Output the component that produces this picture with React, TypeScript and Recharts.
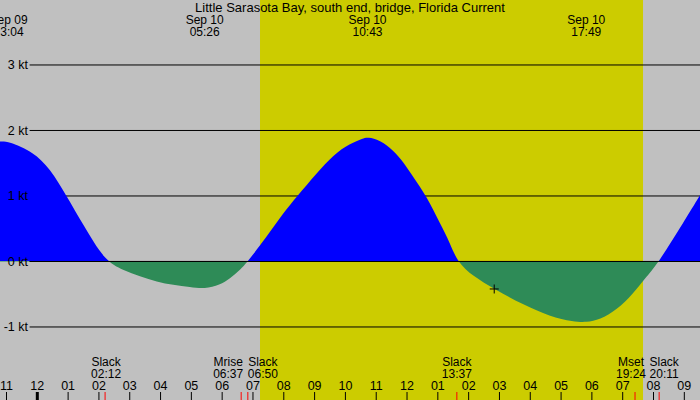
import {
  ComposedChart,
  Area,
  XAxis,
  YAxis,
  ReferenceArea,
  ReferenceLine,
  ReferenceDot,
} from "recharts";

// hours from Sep 10 00:00, current in knots
const hours = [
  -1.25, -0.93, -0.13, 0.41, 0.95, 1.49, 2.2, 2.79, 3.33, 3.88, 4.41, 4.96,
  5.43, 5.93, 6.25, 6.58, 6.83, 7.45, 7.98, 8.42, 9.07, 9.61, 10.15, 10.58,
  10.72, 11.12, 11.55, 11.88, 12.2, 12.64, 13.07, 13.4, 13.62, 14.15, 14.83,
  15.77, 16.64, 17.4, 17.82, 18.26, 18.81, 19.34, 19.78, 20.18, 20.86, 21.52,
];
const knots = [
  1.83, 1.84, 1.67, 1.42, 1.0, 0.56, 0, -0.13, -0.23, -0.31, -0.36, -0.39,
  -0.42, -0.36, -0.26, -0.13, 0, 0.38, 0.74, 0.99, 1.35, 1.63, 1.8, 1.88,
  1.9, 1.855, 1.7, 1.52, 1.29, 0.99, 0.58, 0.28, 0, -0.23, -0.42, -0.66,
  -0.84, -0.92, -0.93, -0.89, -0.74, -0.49, -0.23, 0, 0.51, 1.02,
];

const title = "Little Sarasota Bay, south end, bridge, Florida Current";

const hourTicks = [
  -1, 0, 1, 2, 3, 4, 5, 6, 7, 8, 9, 10, 11, 12, 13, 14, 15, 16, 17, 18, 19, 20, 21,
];
const hourLabels = [
  "11", "12", "01", "02", "03", "04", "05", "06", "07", "08", "09", "10",
  "11", "12", "01", "02", "03", "04", "05", "06", "07", "08", "09",
];

const extremaTimes = [-0.933, 5.433, 10.717, 17.817];
const extremaDates = ["Sep 09", "Sep 10", "Sep 10", "Sep 10"];
const extremaClock = ["23:04", "05:26", "10:43", "17:49"];

const eventTimes = [2.2, 6.617, 6.833, 13.617, 19.4, 20.183];
const eventNames = ["Slack", "Mrise", "Slack", "Slack", "Mset", "Slack"];
const eventClock = ["02:12", "06:37", "06:50", "13:37", "19:24", "20:11"];

const sunrise = 7.228;
const sunset = 19.66;
const gridKnots = [-1, 0, 1, 2, 3];
const cursorMark = { t: 14.83, kt: -0.42 };

// layout only: label shifts (px) so the event labels don't overlap
const eventNudge = [1, -13, 15, 0, -4, 5];

const X_DOMAIN = [-1.211, 21.509];
const Y_DOMAIN = [-2.115, 3.992];
const FONT = "'Liberation Sans', Arial, sans-serif";
const FS = 12;

const data = hours.map((t, i) => ({ t, kt: knots[i] }));
const maxKt = Math.max(...knots);
const minKt = Math.min(...knots);
const splitAt = maxKt / (maxKt - minKt);
const allTicks = [...hourTicks, ...eventTimes, ...extremaTimes].sort(
  (a, b) => a - b
);

const TimeTick = (props: any) => {
  const { x, payload } = props;
  const v = payload.value;

  const h = hourTicks.indexOf(v);
  if (h >= 0) {
    return (
      <g>
        <text x={x} y={390} textAnchor="middle" fontSize={12.5} fill="#000">
          {hourLabels[h]}
        </text>
        <line
          x1={x}
          x2={x}
          y1={392}
          y2={400}
          stroke="#000"
          strokeWidth={v === 0 ? 3 : 1}
        />
      </g>
    );
  }

  const e = extremaTimes.indexOf(v);
  if (e >= 0) {
    return (
      <g>
        <text x={x} y={24} textAnchor="middle" fontSize={FS} fill="#000">
          {extremaDates[e]}
        </text>
        <text x={x} y={36} textAnchor="middle" fontSize={FS} fill="#000">
          {extremaClock[e]}
        </text>
      </g>
    );
  }

  const i = eventTimes.indexOf(v);
  const lx = x + eventNudge[i];
  return (
    <g>
      <text x={lx} y={366} textAnchor="middle" fontSize={FS} fill="#000">
        {eventNames[i]}
      </text>
      <text x={lx} y={378} textAnchor="middle" fontSize={FS} fill="#000">
        {eventClock[i]}
      </text>
      <line x1={x} x2={x} y1={392} y2={400} stroke="#ff0000" strokeWidth={1} />
    </g>
  );
};

const KnotTick = (props: any) => {
  const { y, payload } = props;
  return (
    <text x={28} y={y + 4.5} textAnchor="end" fontSize={12.5} fill="#000">
      {`${payload.value} kt`}
    </text>
  );
};

const Plus = (props: any) => {
  const { cx, cy } = props;
  return (
    <path
      d={`M${cx - 4.5},${cy}H${cx + 4.5}M${cx},${cy - 4.5}V${cy + 4.5}`}
      stroke="#000"
      strokeWidth={1}
    />
  );
};

export default function App() {
  return (
    <div
      style={{
        position: "relative",
        width: 700,
        height: 400,
        background: "#c0c0c0",
        fontFamily: FONT,
      }}
    >
      <style>{"body{margin:0}"}</style>
      <ComposedChart
        width={700}
        height={400}
        data={data}
        margin={{ top: 0, right: 0, bottom: -1, left: -1 }}
      >
        <defs>
          <linearGradient id="flowSplit" x1="0" y1="0" x2="0" y2="1">
            <stop offset={0} stopColor="#0000ff" />
            <stop offset={splitAt} stopColor="#0000ff" />
            <stop offset={splitAt} stopColor="#2e8b57" />
            <stop offset={1} stopColor="#2e8b57" />
          </linearGradient>
        </defs>

        <XAxis
          dataKey="t"
          type="number"
          domain={X_DOMAIN}
          allowDataOverflow
          ticks={allTicks}
          interval={0}
          height={1}
          axisLine={false}
          tickLine={false}
          tick={<TimeTick />}
        />
        <YAxis
          type="number"
          domain={Y_DOMAIN}
          allowDataOverflow
          ticks={gridKnots}
          interval={0}
          width={1}
          axisLine={false}
          tickLine={false}
          tick={<KnotTick />}
        />

        <ReferenceArea
          x1={sunrise}
          x2={sunset}
          y1={Y_DOMAIN[0]}
          y2={Y_DOMAIN[1]}
          fill="#cccc00"
          fillOpacity={1}
          stroke="none"
          zIndex={-300}
        />

        {gridKnots.map((k) => (
          <ReferenceLine
            key={k}
            segment={[
              { x: -0.25, y: k },
              { x: X_DOMAIN[1], y: k },
            ]}
            stroke="#000"
            strokeWidth={1}
            zIndex={-200}
          />
        ))}

        <Area
          type="basis"
          dataKey="kt"
          baseValue={0}
          stroke="none"
          fill="url(#flowSplit)"
          fillOpacity={1}
          isAnimationActive={false}
          dot={false}
          activeDot={false}
        />

        <ReferenceLine
          segment={[
            { x: -0.25, y: 0 },
            { x: X_DOMAIN[1], y: 0 },
          ]}
          stroke="#000"
          strokeWidth={1}
          zIndex={450}
        />

        <ReferenceDot
          x={cursorMark.t}
          y={cursorMark.kt}
          shape={<Plus />}
          zIndex={700}
        />
      </ComposedChart>

      <svg
        width={700}
        height={400}
        style={{ position: "absolute", left: 0, top: 0, pointerEvents: "none" }}
      >
        <text x={350} y={11.5} textAnchor="middle" fontSize={13} fill="#000">
          {title}
        </text>
      </svg>
    </div>
  );
}
